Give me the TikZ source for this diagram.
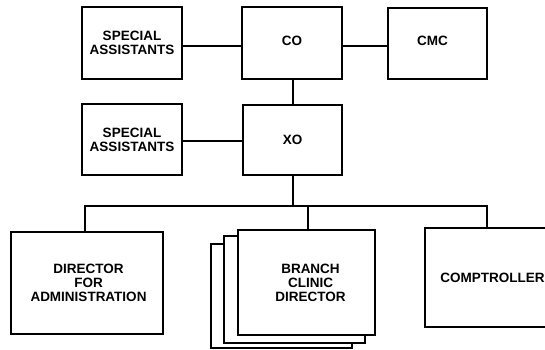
\documentclass[tikz,border=0pt]{standalone}
\usepackage{fontspec}
\setmainfont{Liberation Sans}
\begin{document}
\begin{tikzpicture}[x=1bp,y=-1bp,
  box/.style={draw=black,fill=white,line width=1.5bp,rectangle,inner sep=0pt,align=center,
    font=\bfseries\fontsize{13.5bp}{14bp}\selectfont},
  conn/.style={line width=1.4bp}]
\clip (0,0) rectangle (545,349);
\fill[white] (0,0) rectangle (545,349);
% top row
\node[box,minimum width=100bp,minimum height=72bp] (sa1) at (132,43) {SPECIAL\\ASSISTANTS};
\node[box,minimum width=100bp,minimum height=72bp] (co) at (292,43) {\raisebox{4bp}{CO}};
\node[box,minimum width=99bp,minimum height=71bp] (cmc) at (437.5,43.5) {\raisebox{5bp}{CMC}\hspace*{10bp}};
% second row
\node[box,minimum width=100bp,minimum height=71bp] (sa2) at (132,139.5) {SPECIAL\\ASSISTANTS};
\node[box,minimum width=99bp,minimum height=70bp] (xo) at (292.5,140) {XO};
% bottom row
\node[box,minimum width=152bp,minimum height=102bp] (dir) at (87,283) {\hspace*{3bp}DIRECTOR\\\hspace*{3bp}FOR\\\hspace*{3bp}ADMINISTRATION};
\node[box,minimum width=141bp,minimum height=104bp] (br3) at (281.5,296) {};
\node[box,minimum width=141bp,minimum height=107bp] (br2) at (294.5,289.5) {};
\node[box,minimum width=137bp,minimum height=105bp] (br) at (306.5,282.5) {\hspace*{8bp}BRANCH\\\hspace*{8bp}CLINIC\\\hspace*{8bp}DIRECTOR};
\node[box,minimum width=135bp,minimum height=99bp] (comp) at (492.5,277.5) {COMPTROLLER};
% connectors
\draw[conn] ([yshift=-3bp]sa1.east) -- ([yshift=-3bp]co.west);
\draw[conn] ([yshift=-2.5bp]cmc.west -| co.east) -- ([yshift=-2.5bp]cmc.west);
\draw[conn] ([xshift=1bp]co.south) -- ([xshift=1bp]co.south |- xo.north);
\draw[conn] ([yshift=-1.5bp]sa2.east) -- ([yshift=-1.5bp]sa2.east -| xo.west);
\coordinate (busL) at (85,206);
\coordinate (busM) at (308,206);
\coordinate (busR) at (487,206);
\draw[conn] ([xshift=0.5bp]xo.south) -- ([xshift=0.5bp]xo.south |- busL);
\draw[conn] (dir.north -| busL) -- (busL) -- (busR) -- (comp.north -| busR);
\draw[conn] (busM) -- (br.north -| busM);
\end{tikzpicture}
\end{document}
